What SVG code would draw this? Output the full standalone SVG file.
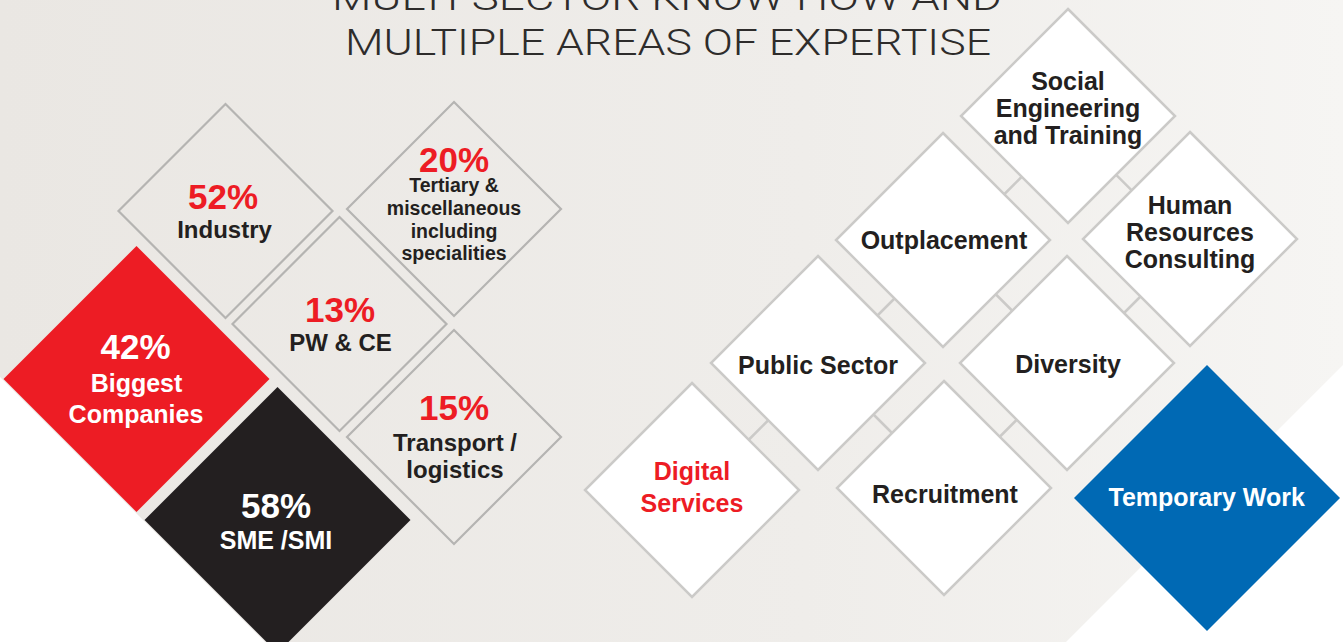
<svg xmlns="http://www.w3.org/2000/svg" width="1343" height="642" viewBox="0 0 1343 642">
<defs>
<linearGradient id="bg" x1="0" y1="0" x2="1" y2="0">
<stop offset="0" stop-color="#eae7e3"/>
<stop offset="0.6" stop-color="#efedea"/>
<stop offset="1" stop-color="#f6f5f3"/>
</linearGradient>
</defs>
<style>
.title{font-family:Roboto,"Liberation Sans",sans-serif;font-weight:300;font-size:37px;fill:#2e2c2b;text-anchor:middle}
.dl{fill:none;stroke:#b5b4b2;stroke-width:2.2}
.dr{fill:#ffffff;stroke:#cbcac8;stroke-width:2.5}
.t{font-family:"Liberation Sans",Arial,sans-serif;font-weight:bold;text-anchor:middle}
.pct{font-size:35px;fill:#ed1c24}
.lab{font-size:24px;fill:#231f20}
.sm{font-size:19.5px;fill:#231f20}
.rl{font-size:25px;fill:#231f20}
.w{fill:#ffffff}
.bridge{stroke:#cbcac8;stroke-width:2.5;fill:none}
</style>
<rect x="0" y="0" width="1343" height="642" fill="url(#bg)"/>
<polygon points="0,377 265,642 0,642" fill="#ffffff"/>
<polygon points="1343,365 1343,642 1066,642" fill="#ffffff"/>

<g id="title">
<text class="title" x="667" y="10" textLength="670" lengthAdjust="spacingAndGlyphs">MULTI-SECTOR KNOW-HOW AND</text>
<text class="title" x="668" y="55" textLength="646" lengthAdjust="spacingAndGlyphs">MULTIPLE AREAS OF EXPERTISE</text>
</g>

<g id="industry">
<polygon class="dl" points="225.5,104 332.5,211 225.5,318 118.5,211"/>
<text class="t pct" x="223" y="209">52%</text>
<text class="t lab" x="224.5" y="238">Industry</text>
</g>
<g id="tertiary">
<polygon class="dl" points="454,102 561,209 454,316 347,209"/>
<text class="t pct" x="454" y="172">20%</text>
<text class="t sm" x="454" y="192">Tertiary &amp;</text>
<text class="t sm" x="454" y="215">miscellaneous</text>
<text class="t sm" x="454" y="238">including</text>
<text class="t sm" x="454" y="260">specialities</text>
</g>
<g id="pwce">
<polygon class="dl" points="339.5,217 446.5,324 339.5,431 232.5,324"/>
<text class="t pct" x="340" y="322">13%</text>
<text class="t lab" x="340.5" y="351">PW &amp; CE</text>
</g>
<g id="transport">
<polygon class="dl" points="454,330 561,437 454,544 347,437"/>
<text class="t pct" x="454" y="420">15%</text>
<text class="t lab" x="455" y="451">Transport /</text>
<text class="t lab" x="455" y="478">logistics</text>
</g>
<g id="biggest">
<polygon fill="#ed1c24" points="136.5,246 269.5,379 136.5,512 3.5,379"/>
<text class="t pct w" x="135.5" y="359">42%</text>
<text class="t rl w" x="136.5" y="392">Biggest</text>
<text class="t rl w" x="136" y="423">Companies</text>
</g>
<g id="sme">
<polygon fill="#231f20" points="277.5,387 410.5,520 277.5,653 144.5,520"/>
<text class="t pct w" x="276" y="518">58%</text>
<text class="t rl w" x="276" y="549">SME /SMI</text>
</g>

<g id="connectors">
<line class="bridge" x1="1004.25" y1="194.25" x2="1021.75" y2="176.75"/>
<line class="bridge" x1="1116.2" y1="174.8" x2="1131.7" y2="190.3"/>
<line class="bridge" x1="877.5" y1="315.5" x2="894.5" y2="298.5"/>
<line class="bridge" x1="995.75" y1="294.25" x2="1012.25" y2="310.75"/>
<line class="bridge" x1="1124" y1="313" x2="1140.5" y2="296.5"/>
<line class="bridge" x1="748.75" y1="439.75" x2="768.25" y2="420.25"/>
<line class="bridge" x1="873.5" y1="414.5" x2="892" y2="433"/>
<line class="bridge" x1="999.75" y1="436.75" x2="1016.75" y2="419.75"/>
</g>

<g id="social">
<polygon class="dr" points="1068,9 1175,116 1068,223 961,116"/>
<text class="t rl" x="1068" y="90">Social</text>
<text class="t rl" x="1068" y="117">Engineering</text>
<text class="t rl" x="1068" y="144">and Training</text>
</g>
<g id="outplacement">
<polygon class="dr" points="943,133 1050,240 943,347 836,240"/>
<text class="t rl" x="944" y="249">Outplacement</text>
</g>
<g id="hr">
<polygon class="dr" points="1190,132 1297,239 1190,346 1083,239"/>
<text class="t rl" x="1190" y="214">Human</text>
<text class="t rl" x="1190" y="241">Resources</text>
<text class="t rl" x="1190" y="268">Consulting</text>
</g>
<g id="public">
<polygon class="dr" points="818,256 925,363 818,470 711,363"/>
<text class="t rl" x="818" y="374">Public Sector</text>
</g>
<g id="diversity">
<polygon class="dr" points="1067,256 1174,363 1067,470 960,363"/>
<text class="t rl" x="1068" y="373">Diversity</text>
</g>
<g id="digital">
<polygon class="dr" points="692,383 799,490 692,597 585,490"/>
<text class="t rl" x="692" y="480" fill="#ed1c24" style="fill:#ed1c24">Digital</text>
<text class="t rl" x="692" y="512" style="fill:#ed1c24">Services</text>
</g>
<g id="recruitment">
<polygon class="dr" points="944,381 1051,488 944,595 837,488"/>
<text class="t rl" x="945" y="503">Recruitment</text>
</g>
<g id="temporary">
<polygon fill="#0069b4" points="1207,365 1340,498 1207,631 1074,498"/>
<text class="t rl w" x="1206.7" y="506">Temporary Work</text>
</g>
</svg>
